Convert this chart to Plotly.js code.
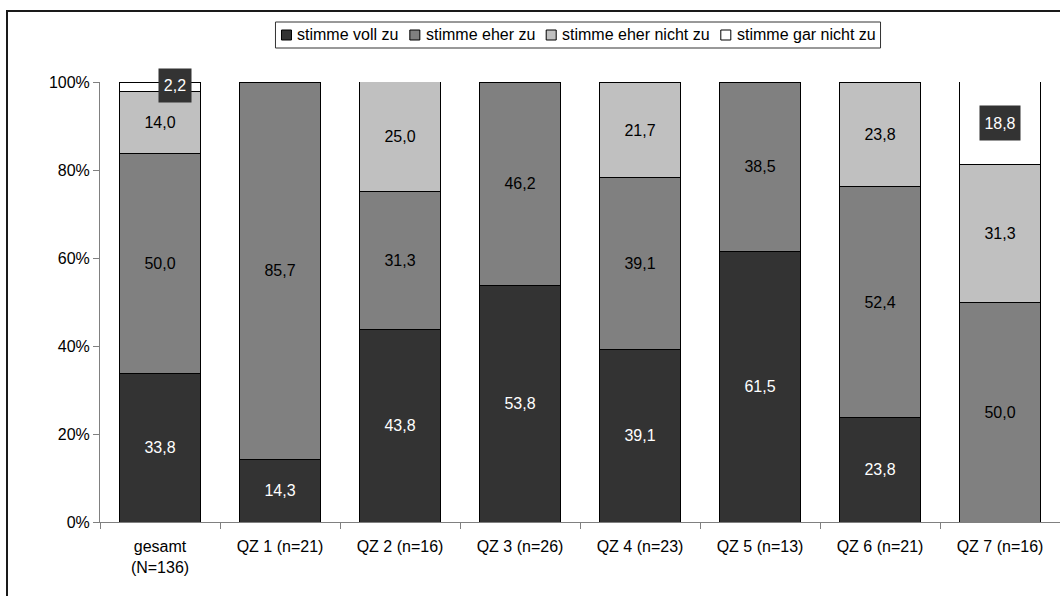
<!DOCTYPE html>
<html>
<head>
<meta charset="utf-8">
<script src="https://cdn.plot.ly/plotly-3.0.1.min.js"></script>
<style>html,body{margin:0;padding:0;background:#fff;}#chart{width:1060px;height:596px;}</style>
</head>
<body>
<div id="chart"></div>
<script>
// ---- data ----
const categories = ["gesamt<br>(N=136)", "QZ 1 (n=21)", "QZ 2 (n=16)", "QZ 3 (n=26)", "QZ 4 (n=23)", "QZ 5 (n=13)", "QZ 6 (n=21)", "QZ 7 (n=16)"];
const seriesNames = ["stimme voll zu", "stimme eher zu", "stimme eher nicht zu", "stimme gar nicht zu"];
const vollZu      = [33.8, 14.3, 43.8, 53.8, 39.1, 61.5, 23.8, 0];
const eherZu      = [50.0, 85.7, 31.3, 46.2, 39.1, 38.5, 52.4, 50.0];
const eherNichtZu = [14.0, 0,    25.0, 0,    21.7, 0,    23.8, 31.3];
const garNichtZu  = [2.2,  0,    0,    0,    0,    0,    0,    18.8];
const yTickVals   = [0, 20, 40, 60, 80, 100];
const yTickText   = ["0%", "20%", "40%", "60%", "80%", "100%"];

// ---- styles ----
const seriesValues = [vollZu, eherZu, eherNichtZu, garNichtZu];
const fillColors = ["#333333", "#808080", "#c0c0c0", "#ffffff"];
const textColors = ["#ffffff", "#000000", "#000000", "#000000"];
const FONT = "'Liberation Sans', Arial, Helvetica, sans-serif";
const FS = 16;

// plot-area geometry (px) used to place the legend / frame in paper coordinates
const W = 1060, H = 596, ML = 100, MR = 0, MT = 82, MB = 74;
const PW = W - ML - MR, PH = H - MT - MB;
const px2x = p => (p - ML) / PW;
const py2y = p => (H - MB - p) / PH;

function fmt(v) { return v.toFixed(1).replace('.', ','); }

const badge = (si, ci) => si === 3 && seriesValues[3][ci] > 0;

const traces = seriesValues.map((vals, si) => ({
  type: 'bar',
  name: seriesNames[si],
  x: categories,
  y: vals,
  text: vals.map((v, ci) => (v > 0 && !badge(si, ci)) ? fmt(v) : ''),
  textposition: 'inside',
  insidetextanchor: 'middle',
  textangle: 0,
  constraintext: 'none',
  textfont: {family: FONT, size: FS, color: textColors[si]},
  hoverinfo: 'skip',
  showlegend: false,
  marker: {color: fillColors[si], line: {color: '#000000', width: 1}}
}));

// badge annotations for the "stimme gar nicht zu" values
const annotations = [];
categories.forEach((c, ci) => {
  const v = garNichtZu[ci];
  if (v <= 0) return;
  const base = vollZu[ci] + eherZu[ci] + eherNichtZu[ci];
  const small = v < 5;
  annotations.push({
    x: c, y: small ? 99.1 : base + v / 2,
    xref: 'x', yref: 'y',
    text: fmt(v), showarrow: false,
    xshift: small ? 15 : 0,
    font: {family: FONT, size: FS, color: '#ffffff'},
    bgcolor: '#333333', borderpad: 4,
    width: small ? 24 : 32, height: small ? 25 : 26
  });
});

// ---- compact boxed legend (Excel style) ----
const ctx = document.createElement('canvas').getContext('2d');
ctx.font = FS + "px 'Liberation Sans', Arial, sans-serif";
const tw = seriesNames.map(n => ctx.measureText(n).width);
const PAD = 6, SYM = 10, GAP = 5, IGAP = 12;
const legW = 2 * PAD + tw.reduce((a, b) => a + b, 0) + seriesNames.length * (SYM + GAP) + (seriesNames.length - 1) * IGAP;
const legTop = 22, legBot = 48, legMid = (legTop + legBot) / 2;
const legCenter = ML + PW / 2 - 2;
let cx = legCenter - legW / 2;
const shapes = [];
shapes.push({
  type: 'rect', xref: 'paper', yref: 'paper',
  x0: px2x(cx), x1: px2x(cx + legW), y0: py2y(legBot), y1: py2y(legTop),
  line: {color: '#333333', width: 1}, fillcolor: '#ffffff'
});
cx += PAD;
seriesNames.forEach((n, i) => {
  shapes.push({
    type: 'rect', xref: 'paper', yref: 'paper',
    x0: px2x(cx), x1: px2x(cx + SYM), y0: py2y(legMid + SYM / 2), y1: py2y(legMid - SYM / 2),
    line: {color: '#000000', width: 1}, fillcolor: fillColors[i]
  });
  cx += SYM + GAP;
  annotations.push({
    xref: 'paper', yref: 'paper', x: px2x(cx), y: py2y(legMid),
    xanchor: 'left', yanchor: 'middle', text: n, showarrow: false,
    font: {family: FONT, size: FS, color: '#000000'}, borderpad: 0
  });
  cx += tw[i] + IGAP;
});

// outer chart-area frame (extends past the right/bottom edge of the picture)
shapes.push({
  type: 'rect', xref: 'paper', yref: 'paper',
  x0: px2x(7), x1: px2x(1100), y0: py2y(640), y1: py2y(11),
  line: {color: '#1a1a1a', width: 2}, fillcolor: 'rgba(0,0,0,0)', layer: 'below'
});

const layout = {
  width: W, height: H,
  margin: {l: ML, r: MR, t: MT, b: MB},
  paper_bgcolor: '#ffffff', plot_bgcolor: '#ffffff',
  barmode: 'stack', bargap: 0.333,
  font: {family: FONT, size: FS, color: '#000000'},
  showlegend: false,
  xaxis: {
    type: 'category', showline: true, linecolor: '#808080', linewidth: 1,
    ticks: 'outside', tickson: 'boundaries', ticklen: 6, tickcolor: '#808080',
    ticklabelstandoff: 10,
    showgrid: false, zeroline: false, fixedrange: true,
    tickfont: {family: FONT, size: FS, color: '#000000'}
  },
  yaxis: {
    range: [0, 100], tickmode: 'array', tickvals: yTickVals, ticktext: yTickText,
    showline: true, linecolor: '#808080', linewidth: 1,
    ticks: 'outside', ticklen: 6, tickcolor: '#808080',
    showgrid: false, zeroline: false, fixedrange: true,
    tickfont: {family: FONT, size: FS, color: '#000000'}
  },
  shapes: shapes,
  annotations: annotations
};

Plotly.newPlot('chart', traces, layout, {displayModeBar: false, staticPlot: true});
</script>
</body>
</html>
